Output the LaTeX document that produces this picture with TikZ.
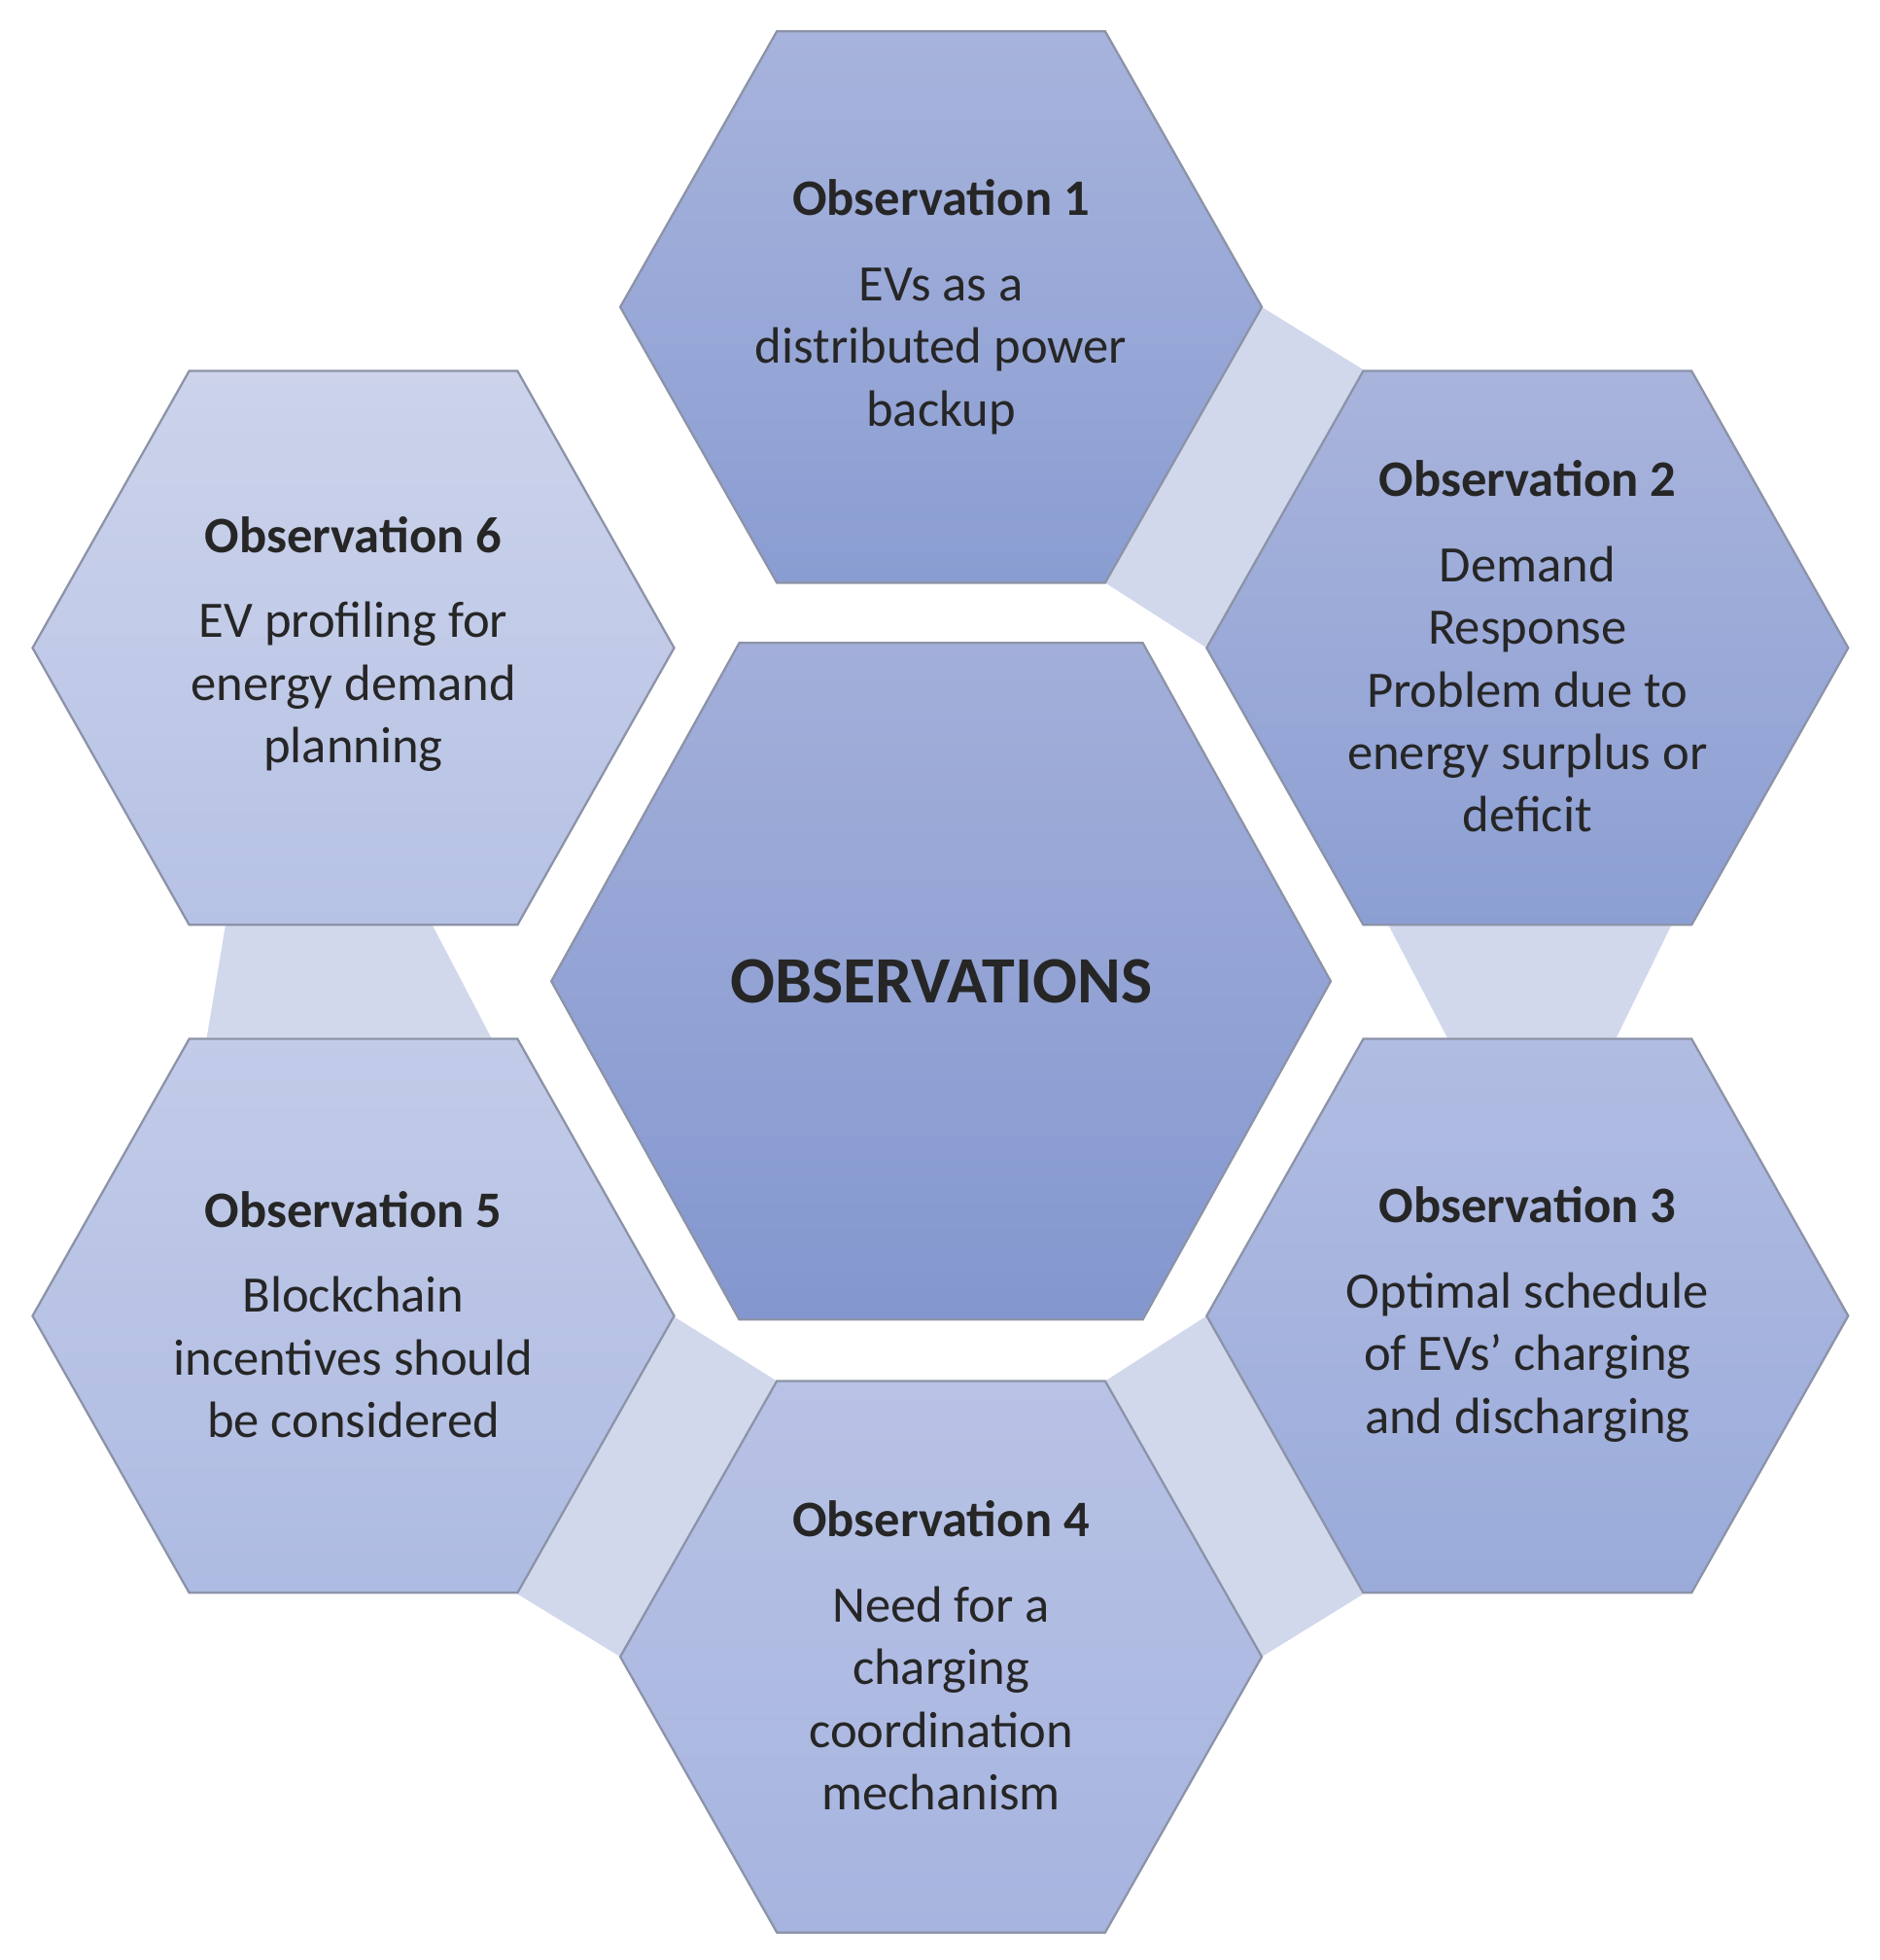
\documentclass[tikz,border=0pt]{standalone}
\usepackage{fontspec}
\setmainfont{Carlito}
\begin{document}
\begin{tikzpicture}[x=0.01cm,y=-0.01cm,
  band/.style={fill=bandc},
  txt/.style={align=center,font=\fontsize{11.6}{14.2}\selectfont,text=black!85}]
\definecolor{bandc}{HTML}{D2D8EC}
\definecolor{edge}{HTML}{8C93A8}
\definecolor{t1}{HTML}{A7B3DC}\definecolor{b1}{HTML}{8A9DD2}
\definecolor{t2}{HTML}{A9B4DC}\definecolor{b2}{HTML}{8C9FD3}
\definecolor{t3}{HTML}{B1BCE2}\definecolor{b3}{HTML}{9AABDA}
\definecolor{t4}{HTML}{B8C2E5}\definecolor{b4}{HTML}{A6B4DF}
\definecolor{t5}{HTML}{C2CBE8}\definecolor{b5}{HTML}{AEBBE2}
\definecolor{t6}{HTML}{CCD3EB}\definecolor{b6}{HTML}{B6C2E5}
\definecolor{tc}{HTML}{A3AFDA}\definecolor{bc}{HTML}{8397CF}
\useasboundingbox (0,0) rectangle (1500,1564);
% args: cx, cy, halfwidth, half top edge, halfheight, top colour, bottom colour
\newcommand\hexg[7]{\shade[top color=#6,bottom color=#7,draw=edge,line width=0.5pt]
 (#1-#3,#2) -- (#1-#4,#2-#5) -- (#1+#4,#2-#5) -- (#1+#3,#2) -- (#1+#4,#2+#5) -- (#1-#4,#2+#5) -- cycle;}
% bands
\fill[band] (1007,245) -- (1088,295) -- (963,517) -- (882,465) -- cycle;
\fill[band] (1108,738) -- (1334,738) -- (1290,828) -- (1155,828) -- cycle;
\fill[band] (180,738) -- (345,738) -- (392,828) -- (165,828) -- cycle;
\fill[band] (963,1050) -- (1088,1272) -- (1007,1322) -- (882,1102) -- cycle;
\fill[band] (620,1102) -- (495,1322) -- (413,1272) -- (537,1050) -- cycle;
% hexagons
\hexg{751}{245}{256}{131}{220}{t1}{b1}
\hexg{1219}{517}{256}{131}{221}{t2}{b2}
\hexg{1219}{1050}{256}{131}{221}{t3}{b3}
\hexg{751}{1322}{256}{131}{220}{t4}{b4}
\hexg{282}{1050}{256}{131}{221}{t5}{b5}
\hexg{282}{517}{256}{131}{221}{t6}{b6}
\hexg{751}{783}{311}{161}{270}{tc}{bc}
% texts
\node[txt] (o1) at (751,245) {\textbf{Observation 1}\\[0.18cm]EVs as a\\distributed power\\backup};
\node[txt] (o2) at (1219,516) {\textbf{Observation 2}\\[0.18cm]Demand\\Response\\Problem due to\\energy surplus or\\deficit};
\node[txt] (o3) at (1219,1049) {\textbf{Observation 3}\\[0.18cm]Optimal schedule\\of EVs’ charging\\and discharging};
\node[txt] (o4) at (751,1321) {\textbf{Observation 4}\\[0.18cm]Need for a\\charging\\coordination\\mechanism};
\node[txt] (o5) at (282,1049) {\textbf{Observation 5}\\[0.18cm]Blockchain\\incentives should\\be considered};
\node[txt] (o6) at (282,514) {\textbf{Observation 6}\\[0.18cm]EV profiling for\\energy demand\\planning};
\node[font=\fontsize{15}{18}\selectfont\bfseries,text=black!85] (c) at (751,783) {OBSERVATIONS};
\end{tikzpicture}
\end{document}
